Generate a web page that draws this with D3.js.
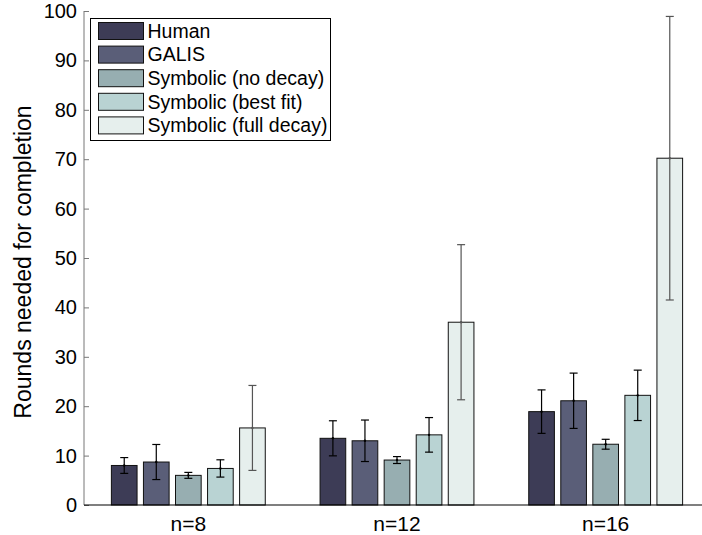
<!DOCTYPE html>
<html>
<head>
<meta charset="utf-8">
<script src="https://cdn.jsdelivr.net/npm/d3@7"></script>
<style>
  body { margin: 0; background: #fff; }
  text { font-family: "Liberation Sans", Arial, Helvetica, sans-serif; }
</style>
</head>
<body>
<div id="wrapper"></div>
<script>
// data
const groups = ["n=8", "n=12", "n=16"];
const seriesNames = ["Human", "GALIS", "Symbolic (no decay)", "Symbolic (best fit)", "Symbolic (full decay)"];
const seriesColors = ["#3d3c56", "#5a5e78", "#97aeb1", "#b9d3d3", "#e6efed"];
const errColors = ["#000", "#000", "#000", "#000", "#555"];
// means per series, one value per group
const means = [
    [8.0, 13.5, 18.9],
    [8.7, 13.0, 21.1],
    [6.0, 9.1, 12.3],
    [7.4, 14.2, 22.2],
    [15.6, 37.0, 70.2],
];
const errors = [
    [1.6, 3.55, 4.4],
    [3.55, 4.2, 5.6],
    [0.6, 0.7, 1.0],
    [1.75, 3.5, 5.1],
    [8.6, 15.7, 28.7],
];
const yTicks = [0, 10, 20, 30, 40, 50, 60, 70, 80, 90, 100];

function drawChart() {
    let dimensions = {
        width: 702,
        height: 535,
        margin: { top: 11, right: -8, bottom: 30, left: 84 },
    };
    dimensions.boundedWidth = dimensions.width - dimensions.margin.left - dimensions.margin.right;
    dimensions.boundedHeight = dimensions.height - dimensions.margin.top - dimensions.margin.bottom;

    const wrapper = d3.select("#wrapper")
        .append("svg")
        .attr("width", dimensions.width)
        .attr("height", dimensions.height);

    const bounds = wrapper.append("g")
        .attr("transform", `translate(${dimensions.margin.left}, ${dimensions.margin.top})`);

    // matlab style x limits [0.5, 3.5]
    const xScale = d3.scaleLinear()
        .domain([0.5, 3.5])
        .range([0, dimensions.boundedWidth]);

    const yScale = d3.scaleLinear()
        .domain([0, 100])
        .range([dimensions.boundedHeight, 0]);

    const pitch = 0.1536;
    const barW = 0.123;
    const offset = i => (i - 2) * pitch;

    // bars
    const series = bounds.selectAll(".series")
        .data(seriesNames)
        .enter()
        .append("g")
        .attr("class", "series");

    series.each(function (name, si) {
        const g = d3.select(this);
        const pts = groups.map((grp, gi) => ({ gi, v: means[si][gi], e: errors[si][gi] }));

        g.selectAll("rect")
            .data(pts)
            .enter()
            .append("rect")
            .attr("x", d => xScale(d.gi + 1 + offset(si) - barW / 2))
            .attr("width", xScale(barW) - xScale(0))
            .attr("y", d => yScale(d.v))
            .attr("height", d => yScale(0) - yScale(d.v))
            .attr("fill", seriesColors[si])
            .attr("stroke", "#111")
            .attr("stroke-width", 1);

        const eb = g.selectAll(".err")
            .data(pts)
            .enter()
            .append("g")
            .attr("class", "err")
            .attr("stroke", errColors[si])
            .attr("stroke-width", 1.2);

        const cx = d => xScale(d.gi + 1 + offset(si));
        eb.append("line")
            .attr("x1", cx).attr("x2", cx)
            .attr("y1", d => yScale(d.v + d.e))
            .attr("y2", d => yScale(d.v - d.e));
        eb.append("line")
            .attr("x1", d => cx(d) - 4).attr("x2", d => cx(d) + 4)
            .attr("y1", d => yScale(d.v + d.e))
            .attr("y2", d => yScale(d.v + d.e));
        eb.append("line")
            .attr("x1", d => cx(d) - 4).attr("x2", d => cx(d) + 4)
            .attr("y1", d => yScale(d.v - d.e))
            .attr("y2", d => yScale(d.v - d.e));
        eb.append("circle")
            .attr("cx", cx)
            .attr("cy", d => yScale(d.v))
            .attr("r", 1.2)
            .attr("fill", errColors[si])
            .attr("stroke", "none");
    });

    // y axis
    const yAxisGenerator = d3.axisRight()
        .scale(yScale)
        .tickValues(yTicks)
        .tickSize(5)
        .tickFormat("");

    const yAxis = bounds.append("g")
        .call(yAxisGenerator);
    yAxis.select(".domain").attr("stroke", "#777").attr("d", `M0,${yScale(100)}V${yScale(0)}`);
    yAxis.selectAll(".tick line").attr("stroke", "#777");

    bounds.append("g")
        .selectAll("text")
        .data(yTicks)
        .enter()
        .append("text")
        .attr("x", -7)
        .attr("y", d => yScale(d))
        .attr("dy", "0.35em")
        .attr("text-anchor", "end")
        .style("font-size", "20px")
        .text(d => d);

    bounds.append("text")
        .attr("transform", `translate(${-53}, ${262 - dimensions.margin.top}) rotate(-90)`)
        .attr("text-anchor", "middle")
        .style("font-size", "23px")
        .text("Rounds needed for completion");

    // x axis
    bounds.append("line")
        .attr("x1", 0).attr("x2", dimensions.boundedWidth)
        .attr("y1", yScale(0)).attr("y2", yScale(0))
        .attr("stroke", "#000")
        .attr("stroke-width", 1.2);

    bounds.append("g")
        .selectAll("text")
        .data(groups)
        .enter()
        .append("text")
        .attr("x", (d, i) => xScale(i + 1))
        .attr("y", yScale(0) + 26)
        .attr("text-anchor", "middle")
        .style("font-size", "21px")
        .text(d => d);

    // legend
    const legend = wrapper.append("g")
        .attr("transform", "translate(90.5, 18.5)");
    legend.append("rect")
        .attr("width", 240)
        .attr("height", 122)
        .attr("fill", "#fff")
        .attr("stroke", "#000");
    const items = legend.selectAll(".item")
        .data(seriesNames)
        .enter()
        .append("g")
        .attr("transform", (d, i) => `translate(8, ${4 + i * 23.6})`);
    items.append("rect")
        .attr("width", 45)
        .attr("height", 17)
        .attr("fill", (d, i) => seriesColors[i])
        .attr("stroke", "#111");
    items.append("text")
        .attr("x", 49)
        .attr("y", 8.5)
        .attr("dy", "0.35em")
        .style("font-size", "19.5px")
        .text(d => d);
}

drawChart();
</script>
</body>
</html>
